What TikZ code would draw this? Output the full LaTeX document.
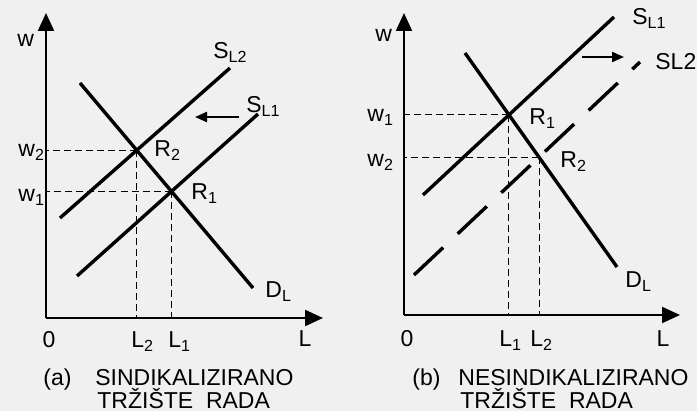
\documentclass[tikz,border=0pt]{standalone}
\usepackage{fontspec}
\setmainfont{Liberation Sans}
\usetikzlibrary{arrows.meta,intersections}

\begin{document}
\begin{tikzpicture}[x=0.5pt,y=-0.5pt,
  axisline/.style={line width=1.1pt,-{Triangle[length=9pt,width=8pt]}},
  supply/.style={line width=1.7pt},
  newsupply/.style={line width=1.7pt,dash pattern=on 20pt off 10pt},
  guide/.style={line width=0.5pt,dash pattern=on 3.5pt off 2pt},
  shiftarrow/.style={line width=1.1pt,-{Triangle[length=6pt,width=5pt]}},
  lbl/.style={anchor=base west,inner sep=0pt,font=\fontsize{11.5}{13}\selectfont},
  capt/.style={anchor=base west,inner sep=0pt,font=\fontsize{11.5}{13}\selectfont}]

% Page
\fill[black!6] (0,0) rectangle (697,411);
\useasboundingbox (0,0) rectangle (697,411);

%%% (a) Sindikalizirano
% Axes
\coordinate (oa) at (46,318);
\coordinate (ya) at (46,13);
\coordinate (xa) at (323,318);
\draw[axisline] (oa) -- (ya);
\draw[axisline] (oa) -- (xa);

% Curves
\draw[supply,name path=asl2] (60,218) -- (230,68);
\draw[supply,name path=asl1] (77,276) -- (258,114);
\draw[supply,name path=adl] (80,83) -- (253,288);
\path[name intersections={of=asl2 and adl}] coordinate (aR2) at (intersection-1);
\path[name intersections={of=asl1 and adl}] coordinate (aR1) at (intersection-1);

% Guides
\draw[guide] (aR2) -- (aR2 -| oa);
\draw[guide] (aR2) -- (aR2 |- oa);
\draw[guide] (aR1) -- (aR1 -| oa);
\draw[guide] (aR1) -- (aR1 |- oa);

% Shift
\coordinate (ash1) at (239,117);
\coordinate (ash2) at (195,117);
\draw[shiftarrow] (ash1) -- (ash2);

% Labels
\node[lbl] (aw) at (17,47) {w};
\node[lbl] (asl2lab) at (213,59) {S\textsubscript{L2}};
\node[lbl] (asl1lab) at (246,113) {S\textsubscript{L1}};
\node[lbl] (adllab) at (265,298) {D\textsubscript{L}};
\node[lbl] (ar2lab) at (154,157) {R\textsubscript{2}};
\node[lbl] (ar1lab) at (191,200) {R\textsubscript{1}};
\node[lbl] (aw2) at (18,157) {w\textsubscript{2}};
\node[lbl] (aw1) at (18,202) {w\textsubscript{1}};
\node[lbl,anchor=base] (a0) at (49,348) {0};
\node[lbl] (al2) at (131,348) {L\textsubscript{2}};
\node[lbl] (al1) at (168,348) {L\textsubscript{1}};
\node[lbl,anchor=base] (al) at (305,347) {L};

% Caption
\node[capt] (atag) at (43,386) {(a)};
\node[capt] (acap1) at (95,386) {SINDIKALIZIRANO};
\node[capt] (acap2) at (97,409) {TRŽIŠTE\ \ RADA};

%%% (b) Nesindikalizirano
% Axes
\coordinate (ob) at (404,315);
\coordinate (yb) at (404,13);
\coordinate (xb) at (680,315);
\draw[axisline] (ob) -- (yb);
\draw[axisline] (ob) -- (xb);

% Curves
\draw[supply,name path=bsl1] (423,195) -- (614,17);
\draw[newsupply,name path=bsl2] (414,275) -- (640,62);
\draw[supply,name path=bdl] (465,53) -- (617,267);
\path[name intersections={of=bsl1 and bdl}] coordinate (bR1) at (intersection-1);
\path[name intersections={of=bsl2 and bdl}] coordinate (bR2) at (intersection-1);

% Guides
\draw[guide] (bR1) -- (bR1 -| ob);
\draw[guide] (bR1) -- (bR1 |- ob);
\draw[guide] (bR2) -- (bR2 -| ob);
\draw[guide] (bR2) -- (bR2 |- ob);

% Shift
\coordinate (bsh1) at (582,57);
\coordinate (bsh2) at (624,57);
\draw[shiftarrow] (bsh1) -- (bsh2);

% Labels
\node[lbl] (bw) at (375,42) {w};
\node[lbl] (bsl1lab) at (632,25) {S\textsubscript{L1}};
\node[lbl] (bsl2lab) at (655,70) {SL2};
\node[lbl] (bdllab) at (625,288) {D\textsubscript{L}};
\node[lbl] (br1lab) at (529,125) {R\textsubscript{1}};
\node[lbl] (br2lab) at (560,168) {R\textsubscript{2}};
\node[lbl] (bw1) at (367,122) {w\textsubscript{1}};
\node[lbl] (bw2) at (367,167) {w\textsubscript{2}};
\node[lbl,anchor=base] (b0) at (407,347) {0};
\node[lbl] (bl1) at (499,347) {L\textsubscript{1}};
\node[lbl] (bl2) at (530,347) {L\textsubscript{2}};
\node[lbl,anchor=base] (bl) at (663,347) {L};

% Caption
\node[capt] (btag) at (412,386) {(b)};
\node[capt] (bcap1) at (458,386) {NESINDIKALIZIRANO};
\node[capt] (bcap2) at (460,409) {TRŽIŠTE\ \ RADA};

\end{tikzpicture}
\end{document}
